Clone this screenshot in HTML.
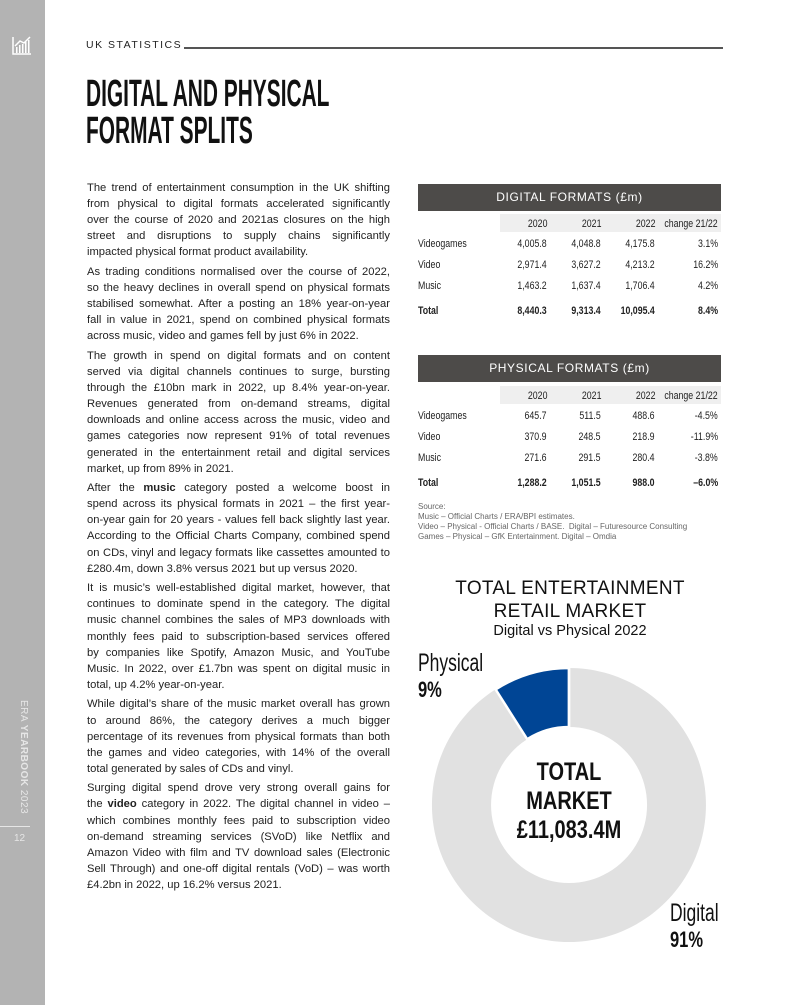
<!DOCTYPE html>
<html><head><meta charset="utf-8"><style>
body{margin:0;width:800px;height:1005px;position:relative;background:#fff;font-family:"Liberation Sans",sans-serif;overflow:hidden;color:#1a1a1a}
.a{position:absolute;white-space:nowrap}
.bt{position:absolute;left:87px;width:303px;font-size:11.2px;line-height:16.1px;color:#222}
.bt div div{text-align:justify;text-align-last:justify;height:16.1px;white-space:nowrap}
.bt div div.l{text-align-last:left}
.bt > div{margin:0 0 3.5px 0}
.hd{position:absolute;left:418px;width:303px;height:27px;background:#4d4b49;color:#fff;font-size:12px;letter-spacing:0.6px;text-align:center;line-height:27px}
.sh{position:absolute;left:500px;width:221px;height:18px;background:#efefef}
.row{position:absolute;left:418px;width:300px;font-size:11px;height:16px;line-height:16px;color:#222}
.row span{position:absolute;text-align:right;transform:scaleX(0.8);transform-origin:right center}
.row span.c0{left:0;transform-origin:left center}
.c1{right:171px}.c2{right:117px}.c3{right:63px}.c4{right:0}
.cn{transform-origin:left top}
</style></head><body>
<div style="position:absolute;left:0;top:0;width:45px;height:1005px;background:#b3b3b3"></div>
<svg class="a" style="left:12px;top:35px" width="20" height="20" viewBox="0 0 20 20"><path d="M1 2V19H19" fill="none" stroke="#fff" stroke-width="1.5"/><g fill="#fff"><rect x="4" y="12" width="1.5" height="6"/><rect x="7" y="10" width="1.5" height="8"/><rect x="10" y="9" width="1.5" height="9"/><rect x="13" y="7" width="1.5" height="11"/><rect x="16" y="5" width="1.5" height="13"/></g><path d="M3 11L8 6L12 8L18 2" fill="none" stroke="#fff" stroke-width="1.5"/></svg>
<div class="a" style="top:700px;transform-origin:0 0;transform:rotate(90deg);font-size:10px;color:#e6e6e6;letter-spacing:0.5px;left:29px">ERA <b>YEARBOOK</b> 2023</div>
<div class="a" style="left:0;top:826px;width:30px;height:1px;background:#e6e6e6"></div>
<div class="a" style="left:14px;top:833px;font-size:10px;color:#e6e6e6">12</div>
<div class="a" style="left:86px;top:39px;font-size:10.5px;letter-spacing:1.5px;color:#222">UK STATISTICS</div>
<div class="a" style="left:184px;top:47px;width:539px;height:1.5px;background:#555"></div>
<div class="a cn" style="left:86px;top:76px;font-size:38px;line-height:37px;font-weight:bold;color:#111;transform:scaleX(0.55)">DIGITAL AND PHYSICAL<br>FORMAT SPLITS</div>

<div class="bt" style="top:180px">
<div><div>The trend of entertainment consumption in the UK shifting</div><div>from physical to digital formats accelerated significantly</div><div>over the course of 2020 and 2021as closures on the high</div><div>street and disruptions to supply chains significantly</div><div class="l">impacted physical format product availability.</div></div>
<div><div>As trading conditions normalised over the course of 2022,</div><div>so the heavy declines in overall spend on physical formats</div><div>stabilised somewhat. After a posting an 18% year-on-year</div><div>fall in value in 2021, spend on combined physical formats</div><div class="l">across music, video and games fell by just 6% in 2022.</div></div>
<div><div>The growth in spend on digital formats and on content</div><div>served via digital channels continues to surge, bursting</div><div>through the £10bn mark in 2022, up 8.4% year-on-year.</div><div>Revenues generated from on-demand streams, digital</div><div>downloads and online access across the music, video and</div><div>games categories now represent 91% of total revenues</div><div>generated in the entertainment retail and digital services</div><div class="l">market, up from 89% in 2021.</div></div>
<div><div>After the <b>music</b> category posted a welcome boost in</div><div>spend across its physical formats in 2021 – the first year-</div><div>on-year gain for 20 years - values fell back slightly last year.</div><div>According to the Official Charts Company, combined spend</div><div>on CDs, vinyl and legacy formats like cassettes amounted to</div><div class="l">£280.4m, down 3.8% versus 2021 but up versus 2020.</div></div>
<div><div>It is music’s well-established digital market, however, that</div><div>continues to dominate spend in the category. The digital</div><div>music channel combines the sales of MP3 downloads with</div><div>monthly fees paid to subscription-based services offered</div><div>by companies like Spotify, Amazon Music, and YouTube</div><div>Music. In 2022, over £1.7bn was spent on digital music in</div><div class="l">total, up 4.2% year-on-year.</div></div>
<div><div>While digital’s share of the music market overall has grown</div><div>to around 86%, the category derives a much bigger</div><div>percentage of its revenues from physical formats than both</div><div>the games and video categories, with 14% of the overall</div><div class="l">total generated by sales of CDs and vinyl.</div></div>
<div><div>Surging digital spend drove very strong overall gains for</div><div>the <b>video</b> category in 2022. The digital channel in video –</div><div>which combines monthly fees paid to subscription video</div><div>on-demand streaming services (SVoD) like Netflix and</div><div>Amazon Video with film and TV download sales (Electronic</div><div>Sell Through) and one-off digital rentals (VoD) – was worth</div><div class="l">£4.2bn in 2022, up 16.2% versus 2021.</div></div>
</div>

<div class="hd" style="top:184px">DIGITAL FORMATS (£m)</div>
<div class="sh" style="top:214px"></div>
<div class="row" style="top:216px"><span class="c1">2020</span><span class="c2">2021</span><span class="c3">2022</span><span class="c4">change 21/22</span></div>
<div class="row" style="top:236px"><span class="c0">Videogames</span><span class="c1">4,005.8</span><span class="c2">4,048.8</span><span class="c3">4,175.8</span><span class="c4">3.1%</span></div>
<div class="row" style="top:257px"><span class="c0">Video</span><span class="c1">2,971.4</span><span class="c2">3,627.2</span><span class="c3">4,213.2</span><span class="c4">16.2%</span></div>
<div class="row" style="top:278px"><span class="c0">Music</span><span class="c1">1,463.2</span><span class="c2">1,637.4</span><span class="c3">1,706.4</span><span class="c4">4.2%</span></div>
<div class="row" style="top:303px;font-weight:bold"><span class="c0">Total</span><span class="c1">8,440.3</span><span class="c2">9,313.4</span><span class="c3">10,095.4</span><span class="c4">8.4%</span></div>

<div class="hd" style="top:355px">PHYSICAL FORMATS (£m)</div>
<div class="sh" style="top:386px"></div>
<div class="row" style="top:388px"><span class="c1">2020</span><span class="c2">2021</span><span class="c3">2022</span><span class="c4">change 21/22</span></div>
<div class="row" style="top:408px"><span class="c0">Videogames</span><span class="c1">645.7</span><span class="c2">511.5</span><span class="c3">488.6</span><span class="c4">-4.5%</span></div>
<div class="row" style="top:429px"><span class="c0">Video</span><span class="c1">370.9</span><span class="c2">248.5</span><span class="c3">218.9</span><span class="c4">-11.9%</span></div>
<div class="row" style="top:450px"><span class="c0">Music</span><span class="c1">271.6</span><span class="c2">291.5</span><span class="c3">280.4</span><span class="c4">-3.8%</span></div>
<div class="row" style="top:475px;font-weight:bold"><span class="c0">Total</span><span class="c1">1,288.2</span><span class="c2">1,051.5</span><span class="c3">988.0</span><span class="c4">–6.0%</span></div>
<div class="a" style="left:418px;top:502px;font-size:8px;line-height:10px;color:#666">Source:<br>Music – Official Charts / ERA/BPI estimates.<br>Video – Physical - Official Charts / BASE.&nbsp; Digital – Futuresource Consulting<br>Games – Physical – GfK Entertainment. Digital – Omdia</div>

<div class="a" style="left:410px;width:320px;top:577px;text-align:center;font-size:19px;line-height:23px;color:#111;letter-spacing:0.3px">TOTAL ENTERTAINMENT<br>RETAIL MARKET</div>
<div class="a" style="left:410px;width:320px;top:623px;text-align:center;font-size:14.5px;color:#111">Digital vs Physical 2022</div>

<svg class="a" style="left:0;top:0" width="800" height="1005">
<path d="M569,668 A137,137 0 1 1 568.9,668 Z M569,727 A78,78 0 1 0 569.1,727 Z" fill="#e1e1e1" fill-rule="evenodd"/>
<path d="M569,668 A137,137 0 0 0 495.6,689.4 L527.2,739.2 A78,78 0 0 1 569,727 Z" fill="#004595" stroke="#fff" stroke-width="2.5"/>
<line x1="569" y1="666" x2="569" y2="729" stroke="#fff" stroke-width="2.5"/>
</svg>
<div class="a" style="left:469px;width:200px;top:758px;text-align:center;font-size:25px;line-height:29px;font-weight:bold;color:#111;transform:scaleX(0.8)">TOTAL<br>MARKET<br>£11,083.4M</div>
<div class="a cn" style="left:418px;top:650px;font-size:25px;line-height:26px;color:#111;transform:scaleX(0.7)">Physical</div>
<div class="a cn" style="left:418px;top:677px;font-size:22px;font-weight:bold;color:#111;transform:scaleX(0.75)">9%</div>
<div class="a cn" style="left:670px;top:900px;font-size:25px;line-height:26px;color:#111;transform:scaleX(0.7)">Digital</div>
<div class="a cn" style="left:670px;top:927px;font-size:22px;font-weight:bold;color:#111;transform:scaleX(0.75)">91%</div>
</body></html>
